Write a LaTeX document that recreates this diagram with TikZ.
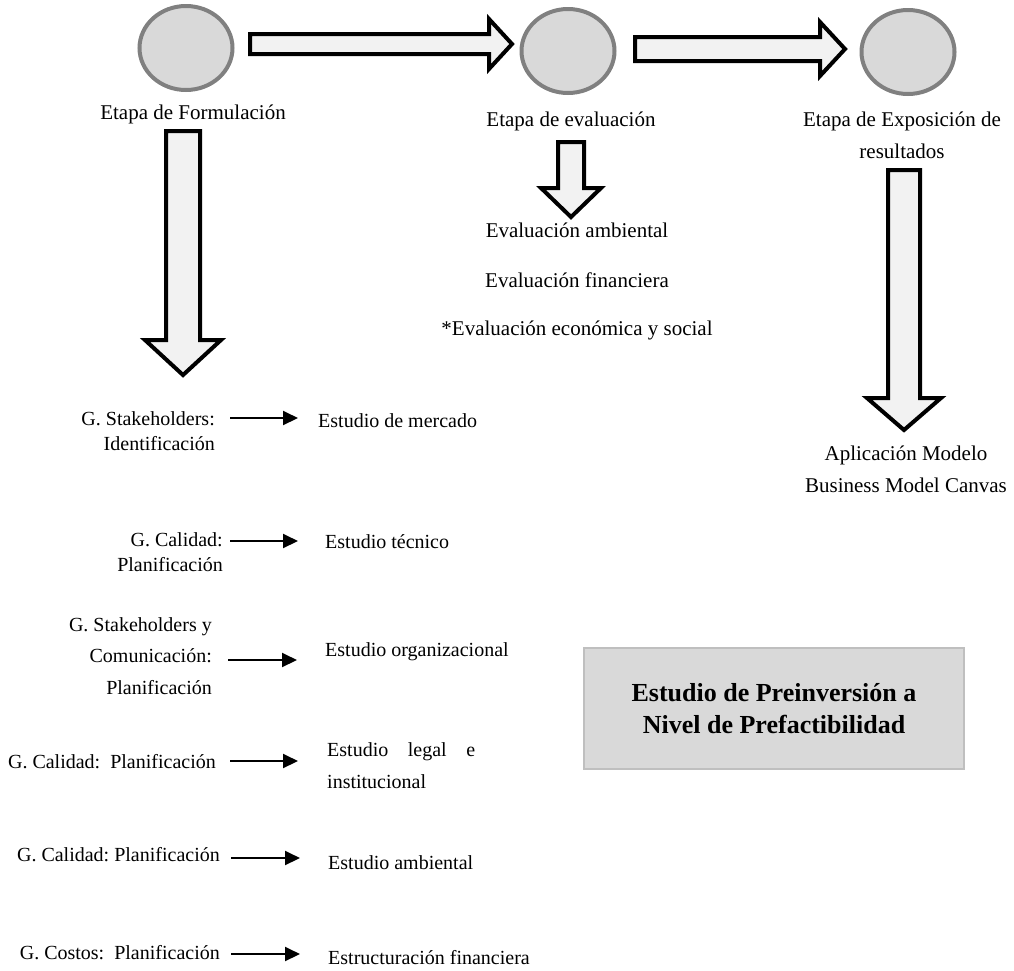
\documentclass[tikz,border=0pt]{standalone}
\usepackage{fontspec}
\setmainfont{Liberation Serif}
\usetikzlibrary{arrows.meta,shapes.geometric}
\begin{document}
\frenchspacing
\begin{tikzpicture}[x=1pt,y=-1pt,
  stage/.style={ellipse, draw=black!50, fill=black!15, line width=4pt, minimum width=93pt, minimum height=84pt, inner sep=0pt},
  blockarrow/.style={draw=black, fill=black!5, line width=4pt, line join=miter, miter limit=10},
  txt/.style={inner sep=0pt, font=\fontsize{21}{32}\selectfont, anchor=base},
  lab/.style={inner sep=0pt, font=\fontsize{20}{25}\selectfont, align=right, anchor=base east},
  est/.style={inner sep=0pt, font=\fontsize{20}{24}\selectfont, align=left, anchor=base west},
  link/.style={line width=2pt, -{Triangle[length=15pt,width=14pt]}},
  titlebox/.style={draw=black!25, fill=black!15, line width=2pt, minimum width=380pt, minimum height=121pt, inner sep=0pt, align=center, font=\bfseries\fontsize{26}{32}\selectfont}
]
\useasboundingbox (0,0) rectangle (1014,970);

% stages
\node[stage] (c1) at (186,48) {};
\node[stage] (c2) at (568,51) {};
\node[stage] (c3) at (908,52) {};

% block arrows
\draw[blockarrow] (250,34) -- (489,34) -- (489,19) -- (512,44) -- (489,69) -- (489,54) -- (250,54) -- cycle;
\draw[blockarrow] (635,37) -- (820,37) -- (820,22) -- (845,49) -- (820,76) -- (820,61) -- (635,61) -- cycle;
\draw[blockarrow] (166,131) -- (200,131) -- (200,340) -- (221,340) -- (183,375) -- (145,340) -- (166,340) -- cycle;
\draw[blockarrow] (558,142) -- (584,142) -- (584,188) -- (601,188) -- (571,217) -- (541,188) -- (558,188) -- cycle;
\draw[blockarrow] (888,170) -- (920,170) -- (920,398) -- (941,398) -- (904,430) -- (867,398) -- (888,398) -- cycle;

% top texts (multi-line nodes are anchored at the baseline of their last line)
\node[txt] (t1) at (193,119) {Etapa de Formulación};
\node[txt] (t2) at (571,126) {Etapa de evaluación};
\node[txt, align=center] (t3) at (902,158) {Etapa de Exposición de\\resultados};
\node[txt] (v1) at (577,237) {Evaluación ambiental};
\node[txt] (v2) at (577,287) {Evaluación financiera};
\node[txt] (v3) at (577,335) {*Evaluación económica y social};
\node[txt, align=center] (t4) at (906,492) {Aplicación Modelo\\Business Model Canvas};

% left labels
\node[lab] (l1) at (215,450) {G. Stakeholders:\\Identificación};
\node[lab] (l2) at (223,571) {G. Calidad:\\Planificación};
\node[lab, font=\fontsize{20}{31.5}\selectfont] (l3) at (212,694) {G. Stakeholders y\\Comunicación:\\Planificación};
\node[lab] (l4) at (216,768) {G. Calidad:\ \ Planificación};
\node[lab] (l5) at (220,861) {G. Calidad: Planificación};
\node[lab] (l6) at (220,959) {G. Costos:\ \ Planificación};

% right labels
\node[est] (e1) at (318,427) {Estudio de mercado};
\node[est] (e2) at (325,548) {Estudio técnico};
\node[est] (e3) at (325,656) {Estudio organizacional};
\node[est, font=\fontsize{20}{32}\selectfont] (e4) at (327,788) {\makebox[148pt][s]{Estudio legal e}\\institucional};
\node[est] (e5) at (328,869) {Estudio ambiental};
\node[est] (e6) at (328,964) {Estructuración financiera};

% links
\draw[link] ([shift={(15pt,32pt)}]l1.base east) -- ([shift={(-20pt,9pt)}]e1.base west);
\draw[link] ([shift={(7pt,30pt)}]l2.base east) -- ([shift={(-27pt,7pt)}]e2.base west);
\draw[link] ([shift={(16pt,34pt)}]l3.base east) -- ([shift={(-28pt,-4pt)}]e3.base west);
\draw[link] ([shift={(14pt,7pt)}]l4.base east) -- ([shift={(-29pt,27pt)}]e4.base west);
\draw[link] ([shift={(11pt,3pt)}]l5.base east) -- ([shift={(-28pt,11pt)}]e5.base west);
\draw[link] ([shift={(11pt,5pt)}]l6.base east) -- ([shift={(-28pt,10pt)}]e6.base west);

% title box
\node[titlebox] (box) at (774,708.5) {Estudio de Preinversión a\\Nivel de Prefactibilidad};
\end{tikzpicture}
\end{document}
